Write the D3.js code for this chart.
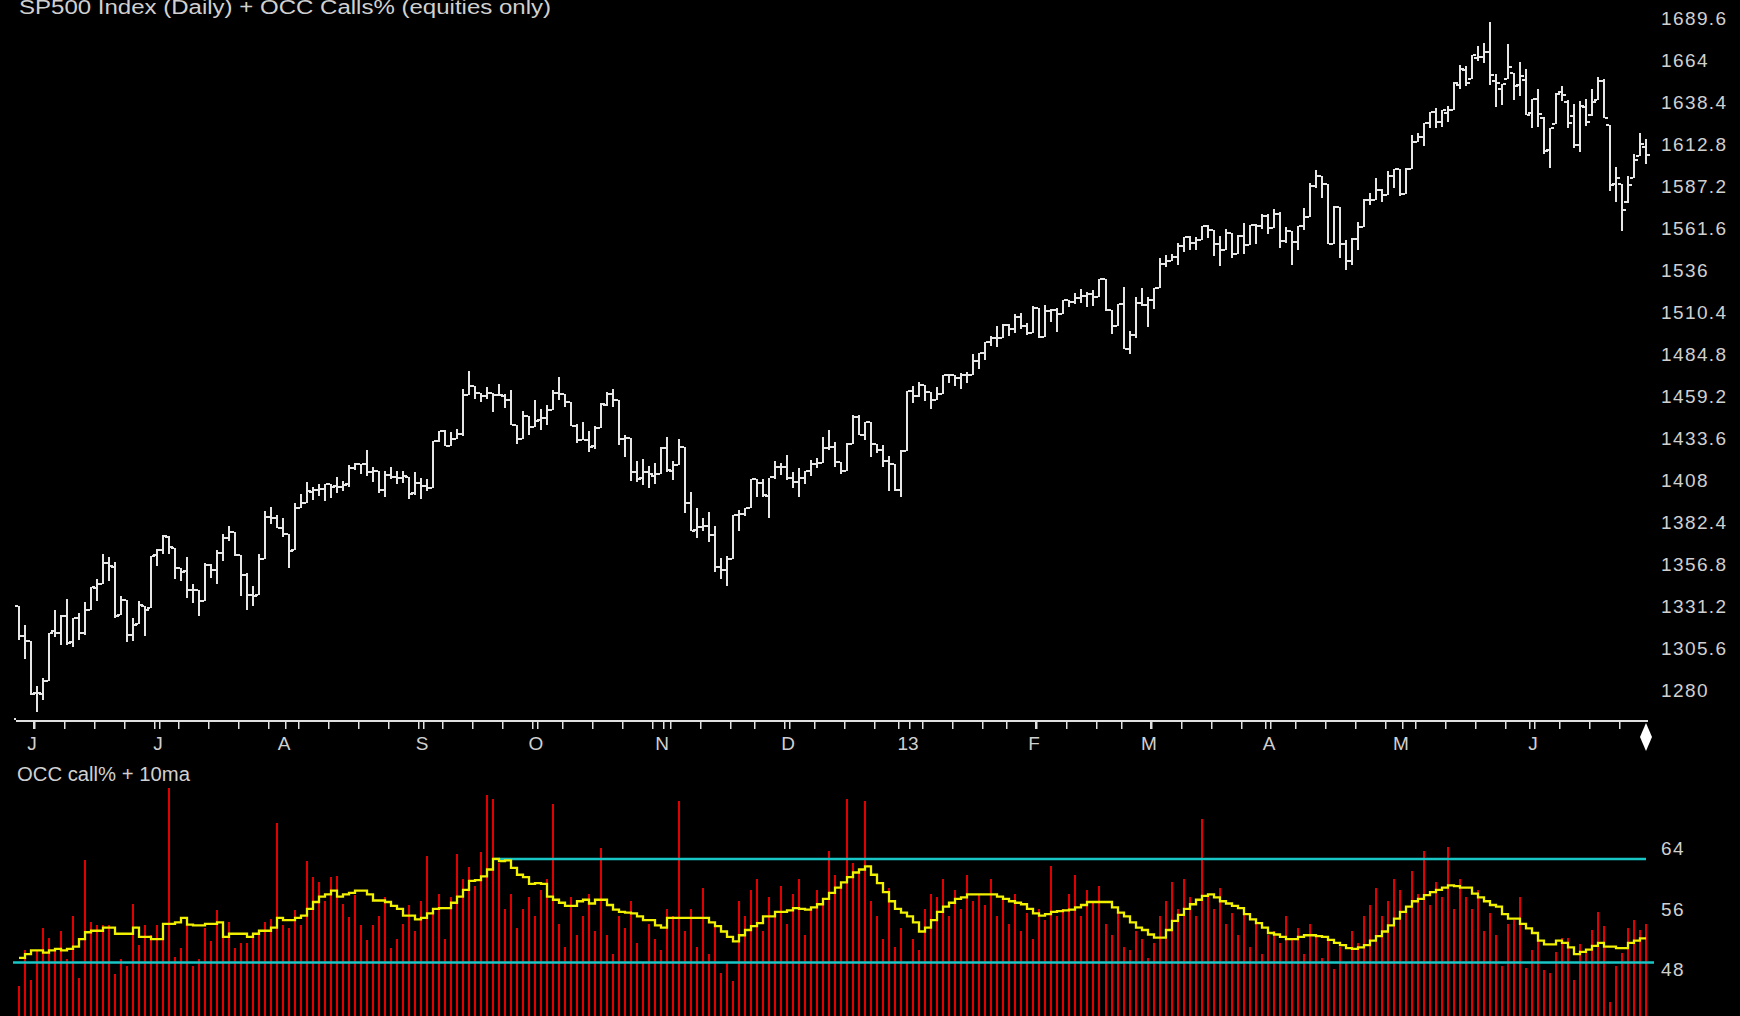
<!DOCTYPE html>
<html>
<head>
<meta charset="utf-8">
<script src="https://cdn.jsdelivr.net/npm/d3@7"></script>
<style>
  html, body { margin: 0; padding: 0; background: #000; overflow: hidden; }
  svg { display: block; }
  text { font-family: "Liberation Sans", Arial, sans-serif; fill: #d0d0d0; }
</style>
</head>
<body>
<svg id="chart" width="1740" height="1016"></svg>
<script>
// trading days shown (May 30 2012 .. Jun 28 2013)
const tradingDays = [
  ["2012-05", [30,31]],
  ["2012-06", [1,4,5,6,7,8,11,12,13,14,15,18,19,20,21,22,25,26,27,28,29]],
  ["2012-07", [2,3,5,6,9,10,11,12,13,16,17,18,19,20,23,24,25,26,27,30,31]],
  ["2012-08", [1,2,3,6,7,8,9,10,13,14,15,16,17,20,21,22,23,24,27,28,29,30,31]],
  ["2012-09", [4,5,6,7,10,11,12,13,14,17,18,19,20,21,24,25,26,27,28]],
  ["2012-10", [1,2,3,4,5,8,9,10,11,12,15,16,17,18,19,22,23,24,25,26,31]],
  ["2012-11", [1,2,5,6,7,8,9,12,13,14,15,16,19,20,21,23,26,27,28,29,30]],
  ["2012-12", [3,4,5,6,7,10,11,12,13,14,17,18,19,20,21,24,26,27,28,31]],
  ["2013-01", [2,3,4,7,8,9,10,11,14,15,16,17,18,22,23,24,25,28,29,30,31]],
  ["2013-02", [1,4,5,6,7,8,11,12,13,14,15,19,20,21,22,25,26,27,28]],
  ["2013-03", [1,4,5,6,7,8,11,12,13,14,15,18,19,20,21,22,25,26,27,28]],
  ["2013-04", [1,2,3,4,5,8,9,10,11,12,15,16,17,18,19,22,23,24,25,26,29,30]],
  ["2013-05", [1,2,3,6,7,8,9,10,13,14,15,16,17,20,21,22,23,24,28,29,30,31]],
  ["2013-06", [3,4,5,6,7,10,11,12,13,14,17,18,19,20,21,24,25,26,27,28]]
];

const opens = [
  1331.3,1313.1,
  1309.9,1278.3,1277.8,1285.6,1316.2,1315.0,1325.7,1309.4,1324.0,1314.9,1329.2,1342.4,1344.8,1358.0,1355.4,1325.9,1334.9,1314.1,1320.7,1331.5,1330.1,
  1362.3,1365.8,1373.7,1367.1,1354.7,1353.0,1341.4,1341.3,1334.8,1356.5,1353.7,1363.6,1373.0,1376.5,1362.3,1350.5,1338.4,1338.2,1360.1,1385.9,1385.3,
  1379.3,1375.1,1365.5,1391.0,1394.5,1401.2,1402.3,1402.6,1405.9,1404.4,1403.9,1405.6,1415.8,1417.9,1418.1,1413.1,1413.5,1402.0,1411.1,1410.4,1409.3,1410.1,1400.1,
  1406.5,1404.9,1403.7,1432.1,1437.9,1429.1,1433.6,1436.6,1460.1,1465.4,1461.2,1459.5,1461.1,1460.3,1459.8,1456.9,1441.6,1433.4,1447.1,
  1440.9,1445.0,1446.1,1451.1,1461.4,1460.9,1455.9,1441.5,1432.8,1432.8,1428.8,1440.3,1454.2,1460.9,1457.3,1433.2,1433.7,1413.2,1409.7,1413.0,1411.0,
  1412.2,1427.6,1414.0,1417.3,1428.3,1394.5,1377.6,1379.9,1380.0,1374.6,1355.4,1353.4,1359.9,1386.8,1387.8,1391.0,1409.2,1406.3,1398.8,1410.0,1416.0,
  1416.3,1409.5,1407.1,1409.4,1414.0,1418.1,1418.6,1427.8,1428.5,1419.5,1413.5,1430.5,1446.8,1435.8,1443.7,1430.2,1426.7,1419.8,1418.1,1402.4,
  1426.2,1462.4,1459.4,1466.5,1461.9,1457.2,1461.0,1472.1,1472.1,1470.7,1472.3,1472.6,1481.0,1486.0,1492.6,1494.8,1494.8,1503.0,1500.2,1507.8,1502.0,
  1498.1,1513.2,1495.7,1511.3,1512.1,1509.4,1517.9,1517.0,1519.4,1520.3,1521.4,1519.8,1530.9,1512.0,1502.4,1515.6,1487.9,1496.9,1516.0,
  1514.7,1518.2,1525.2,1539.8,1541.5,1544.3,1551.2,1556.2,1552.5,1554.5,1563.2,1560.7,1552.1,1548.3,1558.7,1545.9,1556.9,1551.7,1563.8,1562.9,
  1569.2,1562.2,1570.3,1553.7,1560.0,1553.3,1563.1,1568.6,1587.7,1593.3,1588.8,1552.4,1574.6,1552.0,1541.6,1555.3,1562.5,1578.8,1578.8,1585.2,1582.3,1593.6,
  1597.6,1582.8,1597.6,1614.4,1617.6,1626.0,1632.7,1626.7,1632.1,1633.8,1649.1,1658.1,1652.5,1665.7,1666.2,1669.4,1651.6,1646.7,1652.6,1656.6,1649.1,1652.1,
  1631.7,1640.7,1629.1,1609.3,1625.3,1644.7,1638.6,1629.9,1612.2,1635.5,1630.6,1639.8,1651.8,1624.6,1588.6,1588.8,1577.5,1592.3,1605.8,1611.1
];
const highs = [
  1331.3,1319.7,
  1309.9,1282.6,1287.6,1315.1,1329.1,1325.8,1335.5,1324.3,1327.3,1333.7,1343.3,1348.2,1363.5,1361.6,1358.3,1337.8,1334.9,1324.2,1334.4,1331.5,1362.2,
  1366.4,1374.8,1373.9,1367.1,1354.9,1361.5,1345.0,1341.3,1357.7,1357.3,1365.4,1375.3,1380.4,1376.5,1362.3,1351.5,1344.0,1363.1,1389.2,1391.7,1387.2,
  1385.0,1375.1,1394.2,1399.6,1407.1,1404.1,1406.0,1406.0,1405.9,1410.0,1407.7,1417.4,1418.7,1418.1,1426.7,1416.1,1413.5,1413.5,1416.2,1413.6,1414.0,1410.1,1413.1,
  1409.3,1408.8,1432.1,1437.9,1438.7,1437.8,1439.2,1463.8,1474.5,1465.6,1461.5,1465.2,1461.2,1467.1,1460.7,1463.2,1441.6,1450.2,1447.1,
  1457.1,1451.5,1454.3,1463.1,1471.0,1460.9,1455.9,1442.5,1443.9,1438.4,1441.3,1455.5,1462.2,1464.0,1457.3,1435.5,1433.7,1420.0,1421.1,1417.1,1418.8,
  1428.4,1434.3,1419.9,1433.4,1428.3,1401.2,1391.4,1384.9,1388.8,1380.1,1360.6,1362.0,1386.9,1389.8,1391.3,1409.2,1409.2,1409.0,1409.7,1419.7,1418.9,
  1423.7,1413.1,1415.6,1414.0,1420.3,1421.6,1434.3,1438.6,1431.4,1419.5,1430.7,1448.0,1447.8,1443.7,1443.7,1430.2,1429.4,1422.8,1418.1,1426.7,
  1462.4,1465.5,1467.9,1466.5,1461.9,1464.7,1472.3,1472.8,1472.1,1473.3,1474.0,1485.2,1486.0,1492.6,1496.1,1502.3,1503.3,1503.2,1509.4,1509.9,1504.2,
  1514.4,1513.2,1515.0,1512.5,1512.9,1518.3,1518.3,1522.3,1524.7,1523.1,1524.2,1530.9,1530.9,1512.0,1515.6,1525.8,1499.0,1520.1,1525.3,
  1520.0,1525.3,1543.5,1545.3,1545.8,1552.5,1556.3,1556.8,1556.4,1563.3,1563.6,1560.7,1557.3,1561.6,1558.7,1557.7,1564.9,1564.0,1564.1,1570.3,
  1570.6,1573.7,1571.5,1562.6,1560.0,1563.1,1573.9,1589.1,1597.4,1593.3,1588.8,1575.4,1574.6,1554.4,1555.9,1565.6,1579.6,1583.0,1592.6,1585.8,1596.7,1597.6,
  1597.6,1598.6,1618.5,1619.8,1626.0,1632.8,1635.0,1633.7,1636.0,1651.1,1661.5,1660.5,1667.5,1672.8,1674.9,1687.2,1655.5,1649.8,1674.2,1656.6,1662.9,1659.0,
  1640.4,1646.5,1629.3,1622.6,1644.4,1648.7,1640.1,1637.7,1639.3,1640.8,1646.5,1654.2,1652.5,1624.6,1599.2,1588.8,1593.8,1606.8,1620.1,1615.9
];
const lows = [
  1310.8,1298.9,
  1277.3,1266.7,1274.2,1285.6,1312.7,1307.8,1307.7,1306.6,1310.5,1314.1,1329.2,1334.5,1344.8,1346.5,1324.4,1325.9,1309.3,1310.3,1320.7,1313.3,1330.1,
  1355.7,1363.5,1363.0,1348.0,1346.7,1336.3,1333.3,1325.4,1334.8,1348.5,1345.1,1359.0,1371.2,1362.2,1337.6,1329.2,1331.5,1338.2,1360.1,1381.4,1379.2,
  1373.4,1354.7,1365.5,1391.0,1394.5,1396.1,1398.8,1395.6,1397.3,1400.6,1401.8,1404.2,1414.7,1412.1,1410.9,1406.8,1400.5,1398.0,1409.1,1405.6,1406.6,1397.0,1399.0,
  1396.6,1401.3,1403.7,1431.5,1429.0,1429.1,1433.0,1435.1,1460.1,1457.6,1456.1,1457.9,1450.0,1459.5,1452.1,1441.6,1430.5,1433.4,1435.6,
  1440.9,1439.0,1442.0,1451.1,1456.9,1453.1,1441.2,1430.6,1432.8,1425.5,1427.2,1440.3,1453.4,1452.6,1429.9,1422.1,1407.6,1407.1,1405.1,1403.3,1406.0,
  1412.2,1412.9,1408.1,1417.3,1388.1,1377.5,1373.0,1377.2,1370.3,1352.5,1348.1,1343.4,1359.9,1377.0,1386.4,1391.0,1397.7,1398.0,1385.4,1409.0,1411.6,
  1408.5,1403.7,1398.2,1405.9,1410.9,1415.6,1418.6,1426.8,1416.0,1411.9,1413.5,1430.5,1435.8,1432.8,1422.6,1424.7,1416.4,1401.8,1401.6,1398.1,
  1426.2,1455.5,1459.0,1456.6,1451.6,1457.2,1461.0,1467.6,1465.7,1463.8,1467.6,1472.6,1475.8,1481.2,1489.9,1489.5,1494.8,1496.3,1498.1,1500.1,1496.8,
  1498.1,1495.0,1495.7,1504.7,1498.5,1509.4,1513.6,1515.6,1515.9,1514.0,1514.1,1519.8,1511.4,1497.3,1502.4,1487.9,1485.0,1494.9,1514.5,
  1501.5,1512.3,1525.2,1538.1,1541.5,1539.5,1547.4,1548.2,1548.3,1554.5,1555.7,1545.1,1538.6,1548.3,1543.6,1545.9,1546.2,1551.7,1551.9,1561.1,
  1558.5,1562.2,1549.8,1552.5,1539.5,1548.6,1560.9,1568.6,1586.2,1580.0,1552.3,1552.4,1543.7,1536.0,1539.4,1548.2,1562.5,1575.8,1578.8,1577.6,1582.3,1586.5,
  1581.3,1582.8,1597.6,1614.2,1611.8,1622.7,1623.1,1623.7,1626.7,1633.8,1646.7,1648.6,1652.5,1663.5,1662.7,1648.9,1635.5,1636.9,1652.6,1640.1,1642.6,1630.7,
  1622.7,1623.6,1607.1,1598.2,1625.3,1639.3,1622.9,1610.9,1608.1,1624.0,1630.3,1639.8,1628.9,1584.3,1577.7,1560.3,1577.1,1592.3,1605.8,1601.1
];
const closes = [
  1313.3,1310.3,
  1278.0,1278.2,1285.5,1315.1,1315.0,1325.7,1308.9,1324.2,1314.9,1329.1,1342.8,1344.8,1358.0,1355.7,1325.5,1335.0,1313.7,1320.0,1331.9,1329.0,1362.2,
  1365.5,1374.0,1367.6,1354.7,1352.5,1341.5,1341.5,1334.8,1356.8,1353.6,1363.7,1372.8,1376.5,1362.7,1350.5,1338.3,1337.9,1360.0,1386.0,1385.3,1379.3,
  1375.3,1365.0,1391.0,1394.2,1401.4,1402.2,1402.8,1405.9,1404.1,1403.9,1405.5,1415.5,1418.2,1418.1,1413.2,1413.5,1402.1,1411.1,1410.4,1409.3,1410.5,1399.5,1406.6,
  1404.9,1403.4,1432.1,1437.9,1429.1,1433.6,1436.6,1460.0,1465.8,1461.2,1459.3,1461.1,1460.3,1460.2,1456.9,1441.6,1433.3,1447.2,1440.7,
  1444.5,1445.8,1451.0,1461.4,1460.9,1455.9,1441.5,1432.6,1432.8,1428.6,1440.1,1454.9,1460.9,1457.3,1433.2,1433.8,1413.1,1408.8,1413.0,1411.9,1412.2,
  1427.6,1414.2,1417.3,1428.4,1394.5,1377.5,1379.9,1380.0,1374.5,1355.5,1353.3,1359.9,1386.9,1387.8,1391.0,1409.2,1406.3,1398.9,1409.9,1416.0,1416.2,
  1409.5,1407.1,1409.3,1413.9,1418.1,1418.6,1427.8,1428.5,1419.5,1413.6,1430.4,1446.8,1435.8,1443.7,1430.2,1426.7,1419.8,1418.1,1402.4,1426.2,
  1462.4,1459.4,1466.5,1461.9,1457.2,1461.0,1472.1,1472.1,1470.7,1472.3,1472.6,1480.9,1486.0,1492.6,1494.8,1494.8,1503.0,1500.2,1507.8,1502.0,1498.1,
  1513.2,1495.7,1511.3,1512.1,1509.4,1517.9,1517.0,1519.4,1520.3,1521.4,1519.8,1530.9,1512.0,1502.4,1515.6,1487.9,1496.9,1516.0,1514.7,
  1518.2,1525.2,1539.8,1541.5,1544.3,1551.2,1556.2,1552.5,1554.5,1563.2,1560.7,1552.1,1548.3,1558.7,1545.8,1556.9,1551.7,1563.8,1562.9,1569.2,
  1562.2,1570.3,1553.7,1560.0,1553.3,1563.1,1568.6,1587.7,1593.4,1588.9,1552.4,1574.6,1552.0,1541.6,1555.3,1562.5,1578.8,1578.8,1585.2,1582.2,1593.6,1597.6,
  1582.7,1597.6,1614.4,1617.5,1626.0,1632.7,1626.7,1633.7,1633.8,1650.3,1658.8,1650.5,1667.5,1666.3,1669.2,1655.4,1650.5,1649.6,1660.1,1648.4,1654.4,1630.7,
  1640.4,1631.4,1608.9,1622.6,1643.4,1642.8,1626.1,1612.5,1636.4,1626.7,1639.0,1651.8,1628.9,1588.2,1592.4,1573.1,1588.0,1603.3,1613.2,1606.3
];

// OCC equity call % (red bars) and its 10 day average (yellow)
const callPct = [
  45.8,50.6,46.6,50.6,53.5,52.2,50.6,53.0,49.3,55.1,
  46.9,62.5,54.2,53.8,53.8,53.8,47.4,49.3,48.5,56.7,
  51.2,53.8,52.6,53.8,54.1,72.0,49.6,50.8,54.0,48.5,
  49.3,53.5,51.7,55.9,53.7,54.3,50.8,51.5,51.5,52.5,
  53.0,54.3,54.7,67.3,53.8,53.5,55.9,53.8,62.3,60.2,
  59.6,57.0,60.2,60.4,56.7,54.9,57.8,53.8,51.9,53.8,
  55.0,57.5,50.8,52.0,54.0,56.5,53.0,57.0,63.0,55.5,
  58.0,52.0,57.5,63.2,60.0,61.5,59.0,63.5,71.0,70.5,
  62.0,56.0,58.0,53.5,56.0,57.5,55.0,58.5,60.0,69.8,
  54.0,51.0,57.5,52.5,55.0,58.0,53.0,64.0,52.5,50.0,
  55.0,53.5,57.0,51.5,49.0,54.0,52.0,50.5,56.0,55.0,
  70.2,53.0,56.0,51.0,58.8,50.0,54.0,47.5,49.0,46.5,
  57.0,55.0,58.5,60.0,53.0,57.5,55.0,59.0,54.0,58.0,
  60.0,52.5,56.0,58.5,57.0,63.6,60.5,59.0,70.5,62.0,
  61.0,70.2,57.0,55.0,52.0,58.8,51.0,53.5,49.0,52.0,
  50.5,56.0,58.0,57.5,60.0,55.0,58.5,56.0,60.5,57.0,
  58.0,56.5,60.0,55.0,57.5,54.0,58.0,53.0,55.5,52.0,
  56.0,54.5,61.7,55.0,56.0,58.0,60.5,55.0,58.5,57.0,
  59.0,54.0,52.5,55.5,51.0,50.5,53.0,52.0,49.5,51.5,
  55.0,57.0,59.5,56.0,60.0,57.5,55.0,67.9,58.0,56.0,
  58.8,54.0,55.5,52.5,56.0,51.0,54.5,50.0,52.5,53.0,
  51.5,55.0,52.0,53.5,50.0,54.0,52.5,49.5,52.0,48.0,
  51.0,49.0,53.0,51.5,55.0,56.5,58.8,55.0,57.0,60.0,
  58.5,56.0,61.0,58.0,63.7,56.5,59.5,57.5,64.2,56.0,
  60.0,57.5,56.0,58.5,53.0,55.5,52.5,48.4,54.0,54.5,
  57.5,48.2,50.6,51.7,47.9,47.5,50.3,52.1,52.2,46.6,
  51.4,50.1,53.2,55.6,53.7,43.7,48.4,50.1,53.5,54.5,53.2,54.0
];
const callMa10 = [
  49.5,50.0,50.5,50.5,50.2,50.5,50.7,50.5,50.7,51.0,
  52.0,52.9,53.1,53.1,53.5,53.5,52.7,52.7,52.7,53.5,
  52.3,52.3,52.0,52.0,54.0,54.0,54.2,54.8,53.9,53.8,
  53.8,54.0,54.0,54.2,52.3,52.7,52.7,52.7,52.3,52.7,
  53.1,53.1,53.5,54.8,54.5,54.5,54.8,55.1,56.0,56.9,
  57.6,57.9,58.4,57.6,57.9,58.1,58.4,58.4,57.9,57.1,
  57.1,56.9,56.4,56.0,55.1,55.1,54.6,54.8,55.4,56.0,
  56.1,56.1,56.8,57.6,58.5,59.7,59.8,60.3,61.2,62.6,
  62.3,62.4,61.4,60.5,60.2,59.3,59.4,59.3,57.6,57.2,
  56.8,56.4,56.4,57.0,57.2,56.7,57.2,57.2,56.5,55.9,
  55.6,55.5,55.4,55.0,54.5,54.5,53.8,53.5,54.8,54.8,
  54.8,54.8,54.8,54.8,54.8,54.2,53.7,53.0,52.3,51.7,
  52.5,53.2,53.7,54.1,55.0,55.0,55.6,55.6,55.8,56.1,
  56.0,55.9,56.2,56.6,57.3,58.1,58.8,59.5,60.2,60.8,
  61.2,61.6,60.5,59.4,58.2,57.0,56.0,55.5,55.0,54.2,
  53.0,53.5,54.5,55.6,56.3,56.8,57.3,57.5,57.9,57.9,
  57.9,57.9,57.9,57.6,57.3,57.0,56.8,56.6,56.0,55.4,
  55.1,55.3,55.6,55.7,55.8,55.9,56.2,56.5,56.9,56.9,
  56.9,56.9,56.2,55.5,55.0,54.2,53.5,53.2,52.6,52.2,
  52.2,53.2,54.4,55.2,56.0,56.6,57.2,57.7,57.9,57.5,
  57.0,56.7,56.4,56.1,55.3,54.6,54.1,53.5,52.8,52.6,
  52.3,52.0,52.0,52.3,52.5,52.5,52.4,52.3,51.9,51.5,
  51.2,50.8,50.7,50.9,51.2,51.8,52.4,53.0,53.8,54.7,
  55.6,56.3,57.0,57.3,57.8,58.2,58.5,58.8,59.1,59.0,
  58.8,58.8,58.0,57.5,57.0,56.5,56.3,55.3,54.7,54.7,
  54.0,53.4,52.8,51.8,51.3,51.3,51.8,51.5,50.9,50.0,
  50.3,50.6,51.1,51.5,51.0,51.0,50.8,50.8,51.5,51.8,52.1,52.1
];

// axis labels
const priceTicks = [1280,1305.6,1331.2,1356.8,1382.4,1408,1433.6,1459.2,1484.8,1510.4,1536,1561.6,1587.2,1612.8,1638.4,1664,1689.6];
const callTicks = [48,56,64];
const monthLabels = ["J","J","A","S","O","N","D","13","F","M","A","M","J"];
const callHigh = 62.6, callHighFrom = 79;   // upper cyan level
const callLow = 48.9;                       // lower cyan level

const parseDay = d3.timeParse("%Y-%m-%d");
const dates = tradingDays.flatMap(([m, ds]) => ds.map(d => parseDay(m + "-" + String(d).padStart(2, "0"))));
const n = dates.length;

const svg = d3.select("#chart");
const W = 1740, H = 1016;
svg.append("rect").attr("width", W).attr("height", H).attr("fill", "#000");

const x = d3.scaleLinear().domain([0, n - 1]).range([18.5, 1646]);
const y = d3.scaleLinear().domain([1280, 1689.6]).range([690.5, 18.5]);
const y2 = d3.scaleLinear().domain([48, 64]).range([969.3, 848.3]);
const px = i => Math.round(x(i));

// title (cut at the top edge, as in the original screen grab)
svg.append("text").attr("x", 19).attr("y", 14)
  .attr("font-size", 20).attr("textLength", 532).attr("lengthAdjust", "spacingAndGlyphs")
  .text("SP500 Index (Daily) + OCC Calls% (equities only)");

// OHLC bars
const bars = svg.append("g").attr("fill", "#e6e6e6");
const idx = d3.range(n);
bars.selectAll(".hl").data(idx).join("rect").attr("class", "hl")
  .attr("x", i => px(i) - 1).attr("width", 2)
  .attr("y", i => Math.round(y(highs[i])))
  .attr("height", i => Math.max(2, Math.round(y(lows[i])) - Math.round(y(highs[i]))));
bars.selectAll(".op").data(idx).join("rect").attr("class", "op")
  .attr("x", i => px(i) - 4).attr("width", 3)
  .attr("y", i => Math.round(y(opens[i])) - 1).attr("height", 2);
bars.selectAll(".cl").data(idx).join("rect").attr("class", "cl")
  .attr("x", i => px(i) + 1).attr("width", 3)
  .attr("y", i => Math.round(y(closes[i])) - 1).attr("height", 2);

// price labels
svg.append("g").selectAll("text").data(priceTicks).join("text")
  .attr("x", 1661).attr("y", d => y(d)).attr("dy", "0.36em")
  .attr("font-size", 19).attr("letter-spacing", 1.4)
  .text(d => d);

// time axis
const axisY = 720;
const axis = svg.append("g").attr("fill", "#e0e0e0");
axis.append("rect").attr("x", 16).attr("y", axisY).attr("width", px(n - 1) + 2 - 16).attr("height", 2);
axis.append("rect").attr("x", 14).attr("y", axisY - 2).attr("width", 2).attr("height", 2);

const weekStarts = idx.filter(i => i > 0 && +d3.timeMonday.floor(dates[i]) !== +d3.timeMonday.floor(dates[i - 1]));
const monthStarts = idx.filter(i => i > 0 && dates[i].getMonth() !== dates[i - 1].getMonth());
axis.selectAll(".wk").data(weekStarts).join("rect").attr("class", "wk")
  .attr("x", i => px(i) - 3).attr("y", axisY + 2).attr("width", 1.5).attr("height", 7);
axis.selectAll(".mo").data(monthStarts).join("rect").attr("class", "mo")
  .attr("x", i => px(i) + 2).attr("y", axisY + 2).attr("width", 1.5).attr("height", 7);

svg.append("g").selectAll("text").data(monthStarts).join("text")
  .attr("x", i => px(i) + 1).attr("y", 750).attr("text-anchor", "middle")
  .attr("font-size", 19)
  .text((i, k) => monthLabels[k]);

// end marker
const ex = px(n - 1);
svg.append("path")
  .attr("d", `M${ex},723 L${ex + 6},737 L${ex},751 L${ex - 6},737 Z`)
  .attr("fill", "#ffffff");

// lower panel
svg.append("text").attr("x", 17).attr("y", 781)
  .attr("font-size", 20).attr("textLength", 173).attr("lengthAdjust", "spacingAndGlyphs")
  .text("OCC call% + 10ma");

svg.append("g").attr("fill", "#e00000").selectAll("rect").data(idx).join("rect")
  .attr("x", i => px(i) - 1).attr("width", 2)
  .attr("y", i => Math.round(y2(callPct[i])))
  .attr("height", i => H - Math.round(y2(callPct[i])));

svg.append("line")
  .attr("x1", 13).attr("x2", 1654).attr("y1", y2(callLow)).attr("y2", y2(callLow))
  .attr("stroke", "#18c6c6").attr("stroke-width", 2.5);
svg.append("line")
  .attr("x1", px(callHighFrom)).attr("x2", px(n - 1)).attr("y1", y2(callHigh)).attr("y2", y2(callHigh))
  .attr("stroke", "#18c6c6").attr("stroke-width", 2.5);

const maLine = d3.line().x(i => px(i)).y(i => y2(callMa10[i])).curve(d3.curveStepAfter);
svg.append("path").datum(idx).attr("d", maLine)
  .attr("fill", "none").attr("stroke", "#f0f000").attr("stroke-width", 2.3);

svg.append("g").selectAll("text").data(callTicks).join("text")
  .attr("x", 1661).attr("y", d => y2(d)).attr("dy", "0.36em")
  .attr("font-size", 19).attr("letter-spacing", 1.4)
  .text(d => d);
</script>
</body>
</html>
